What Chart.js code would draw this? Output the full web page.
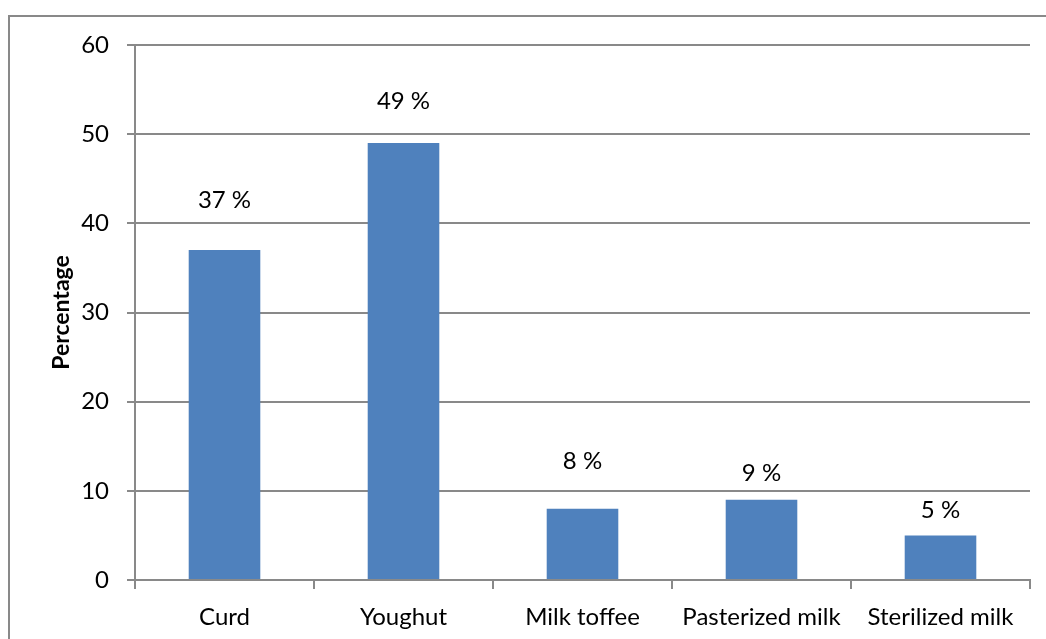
<!DOCTYPE html>
<html>
<head>
<meta charset="utf-8">
<script src="https://cdn.jsdelivr.net/npm/chart.js@4"></script>
<style>
  html, body { margin: 0; padding: 0; background: #fff; overflow: hidden; }
  #frame { position: absolute; left: 8px; top: 15px; width: 1100px; height: 700px; border: 2px solid #898989; }
  #wrap { position: absolute; left: 0; top: 0; width: 1046px; height: 639px; }
</style>
</head>
<body>
<div id="frame"></div>
<div id="wrap"><canvas id="chart" width="1046" height="639"></canvas></div>
<script>
const categories = ["Curd", "Youghut", "Milk toffee", "Pasterized milk", "Sterilized milk"];
const percentages = [37, 49, 8, 9, 5];
const yTicks = [0, 10, 20, 30, 40, 50, 60];

// label distance above each bar top (px), labels were placed by hand in the original
const labelOffsets = [50, 42, 47, 26, 25];

const fontFamily = "Lato, 'Open Sans', sans-serif";

const barLabels = {
  id: "barLabels",
  afterDatasetsDraw(chart) {
    const ctx = chart.ctx;
    const meta = chart.getDatasetMeta(0);
    ctx.save();
    ctx.font = "24px " + fontFamily;
    ctx.fillStyle = "#000";
    ctx.textAlign = "center";
    ctx.textBaseline = "middle";
    meta.data.forEach((bar, i) => {
      ctx.fillText(percentages[i] + " %", bar.x, bar.y - labelOffsets[i]);
    });
    ctx.restore();
  },
};

new Chart(document.getElementById("chart"), {
  type: "bar",
  data: {
    labels: categories,
    datasets: [
      {
        data: percentages,
        backgroundColor: "#4f81bd",
        categoryPercentage: 1,
        barPercentage: 0.4,
      },
    ],
  },
  options: {
    responsive: false,
    animation: false,
    layout: { padding: { left: 0, top: 45, right: 16, bottom: 0 } },
    plugins: { legend: { display: false }, tooltip: { enabled: false } },
    scales: {
      x: {
        grid: { drawOnChartArea: false, drawTicks: true, tickLength: 9, offset: true, color: "#898989", lineWidth: 2 },
        border: { color: "#898989", width: 2 },
        ticks: { color: "#000", font: { family: fontFamily, size: 24 }, padding: 14, maxRotation: 0 },
        afterFit(scale) { scale.height = 59; },
      },
      y: {
        min: 0,
        max: 60,
        afterBuildTicks(scale) { scale.ticks = yTicks.map((v) => ({ value: v })); },
        grid: { color: "#898989", lineWidth: 2, tickLength: 8 },
        border: { color: "#898989", width: 2 },
        ticks: { color: "#000", font: { family: fontFamily, size: 24 }, padding: 18 },
        title: { display: true, text: "Percentage", color: "#000", font: { family: fontFamily, size: 23, weight: "bold" }, padding: { top: 48, bottom: 0 } },
        afterFit(scale) { scale.width = 135; },
      },
    },
  },
  plugins: [barLabels],
});
</script>
</body>
</html>
